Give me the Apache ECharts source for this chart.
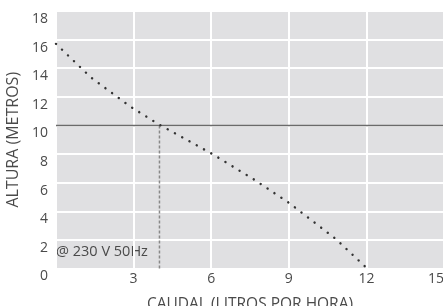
<!DOCTYPE html>
<html>
<head>
<meta charset="utf-8">
<script src="https://cdn.jsdelivr.net/npm/echarts@6/dist/echarts.min.js"></script>
<style>
  html, body { margin: 0; padding: 0; background: #fff; }
  #chart { width: 443px; height: 306px; }
</style>
</head>
<body>
<div id="chart"></div>
<script>
// curva de la bomba (caudal l/h -> altura m)
var caudal = [0, 1.34, 2.88, 4.0, 6.05, 7.7, 9.03, 10.82, 12.03];
var altura = [15.7, 13.37, 11.31, 10.05, 8.0, 6.17, 4.56, 2.06, 0];
// altura maxima recomendada y punto de trabajo
var alturaMax = 10;
var caudalMax = 4.0;
var xTicks = [0, 3, 6, 9, 12, 15];
var yTicks = [0, 2, 4, 6, 8, 10, 12, 14, 16, 18];

var txt = '#4a4a4a';
var font = 'Open Sans';

var chart = echarts.init(document.getElementById('chart'));

var curva = caudal.map(function (x, i) { return [x, altura[i]]; });

var option = {
    animation: false,
    grid: {
        left: 56, right: -1, top: 11, bottom: 37.5,
        outerBoundsMode: 'none',
        containLabel: false,
        show: true,
        backgroundColor: '#e0e0e2',
        borderWidth: 0
    },
    xAxis: {
        type: 'value',
        min: xTicks[0], max: xTicks[xTicks.length - 1], interval: 3,
        name: 'CAUDAL (LITROS POR HORA)',
        nameLocation: 'middle', nameGap: 28,
        nameTextStyle: { color: txt, fontSize: 15.5, fontFamily: font },
        axisLine: { show: false },
        axisTick: { show: false },
        axisLabel: { color: txt, fontSize: 14, fontFamily: font, margin: 4, showMinLabel: false, alignMaxLabel: 'right' },
        splitLine: { lineStyle: { color: '#fff', width: 2 } }
    },
    yAxis: {
        type: 'value',
        min: yTicks[0], max: yTicks[yTicks.length - 1], interval: 2,
        name: 'ALTURA (METROS)',
        nameLocation: 'middle', nameGap: 31,
        nameTextStyle: { color: txt, fontSize: 16, fontFamily: font },
        axisLine: { show: false },
        axisTick: { show: false },
        axisLabel: { color: txt, fontSize: 14, fontFamily: font, margin: 8, verticalAlign: 'top', padding: [1, 0, 0, 0] },
        splitLine: { lineStyle: { color: '#fff', width: 2 } }
    },
    series: [
        {
            name: 'curva',
            type: 'line',
            data: curva,
            symbol: 'none',
            lineStyle: { color: '#333', width: 2.4, type: [0.1, 8.2], cap: 'round' },
            z: 5
        },
        {
            name: 'maximo',
            type: 'line',
            data: [[xTicks[0], alturaMax], [xTicks[xTicks.length - 1], alturaMax]],
            symbol: 'none',
            lineStyle: { color: '#6b6b6b', width: 1.6 },
            markLine: {
                silent: true,
                symbol: 'none',
                lineStyle: { opacity: 0 },
                data: [{ yAxis: alturaMax }],
                label: {
                    position: 'insideEndTop',
                    distance: [6, 3],
                    formatter: 'Altura máxima recomendada 10 m',
                    color: txt, fontSize: 16.7, fontFamily: font
                }
            },
            z: 4
        },
        {
            name: 'punto',
            type: 'line',
            data: [[caudalMax, alturaMax], [caudalMax, 0]],
            symbol: 'none',
            lineStyle: { color: '#888', width: 1.5, type: [3, 2] },
            z: 3
        }
    ],
    graphic: [
        {
            type: 'text',
            left: 56, top: 244,
            style: { text: '@ 230 V 50Hz', fill: txt, fontSize: 14.5, fontFamily: font }
        }
    ]
};

chart.setOption(option, true);
</script>
</body>
</html>
